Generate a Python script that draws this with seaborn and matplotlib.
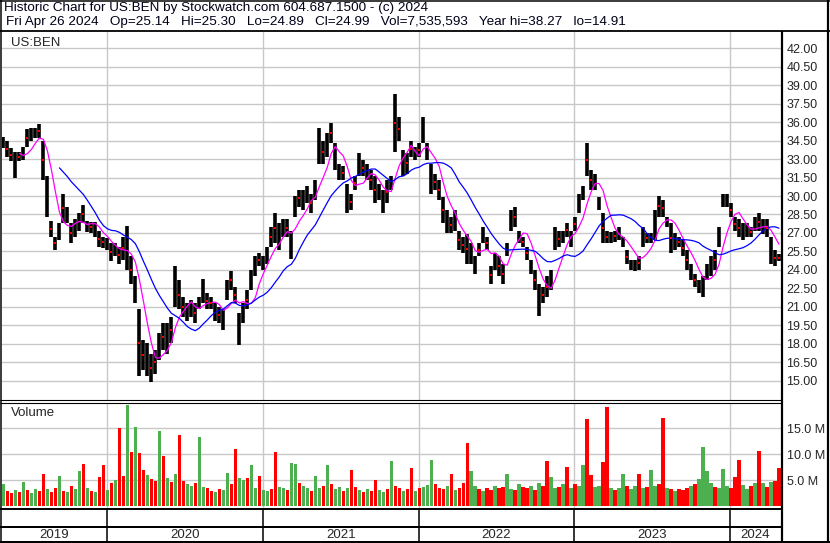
import pandas as pd
import seaborn as sns
import matplotlib.pyplot as plt
import matplotlib.dates as mdates
from matplotlib.lines import Line2D

# US:BEN price range per slice (about 6 trading days each), May 2019 - Apr 2024
high = [34.8, 34.5, 33.9, 33.6, 33.6, 34.0, 35.4, 35.5, 35.5, 35.8,
        34.5, 31.6, 28.0, 26.7, 27.8, 30.2, 29.1, 27.8, 28.1, 28.6,
        29.3, 28.0, 27.9, 27.9, 27.2, 26.7, 26.6, 26.2, 26.2, 25.9,
        26.7, 27.6, 25.1, 23.5, 20.8, 18.3, 18.1, 17.2, 17.5, 18.9,
        19.7, 19.7, 20.2, 24.3, 23.2, 21.8, 21.3, 21.6, 21.3, 21.8,
        23.3, 22.1, 21.8, 21.3, 21.0, 20.8, 23.2, 23.9, 22.6, 20.5,
        21.3, 22.4, 24.0, 25.1, 25.4, 25.1, 25.9, 27.5, 28.6, 27.8,
        28.1, 28.1, 27.2, 30.0, 30.5, 30.5, 30.8, 30.2, 31.3, 35.5,
        34.5, 35.1, 35.9, 34.3, 32.6, 32.4, 31.0, 30.2, 31.6, 33.5,
        32.9, 32.6, 32.1, 31.6, 31.0, 30.5, 31.3, 31.6, 38.3, 36.4,
        33.7, 33.5, 34.5, 34.0, 34.3, 36.4, 34.3, 32.6, 31.8, 31.3,
        29.9, 28.9, 28.3, 28.9, 27.2, 26.7, 26.9, 26.2, 25.1, 26.2,
        27.5, 26.7, 24.3, 25.4, 25.1, 24.5, 26.2, 28.9, 29.1, 27.2,
        26.7, 25.9, 24.8, 24.0, 22.9, 22.6, 23.5, 24.0, 27.5, 27.2,
        27.2, 27.8, 27.2, 28.3, 30.2, 30.8, 34.3, 32.1, 31.8, 29.9,
        28.6, 27.2, 27.1, 27.2, 27.5, 26.7, 25.6, 24.8, 24.8, 25.1,
        27.5, 27.0, 27.0, 28.9, 30.0, 29.7, 28.3, 27.8, 27.0, 26.7,
        26.4, 25.6, 24.5, 23.7, 23.2, 23.5, 24.5, 25.1, 25.6, 27.5,
        30.2, 30.2, 29.4, 28.3, 28.1, 27.8, 27.8, 27.5, 28.3, 28.6,
        28.1, 28.1, 26.7, 25.6, 25.3]
low = [33.9, 33.2, 32.8, 31.5, 32.8, 32.9, 34.0, 34.5, 34.7, 34.7,
       31.3, 28.3, 26.7, 25.6, 26.4, 27.8, 27.8, 26.2, 26.7, 27.2,
       27.8, 27.1, 27.0, 26.7, 25.9, 25.8, 25.6, 24.7, 25.1, 24.5,
       24.8, 24.0, 22.9, 21.3, 15.4, 15.9, 15.4, 14.9, 15.6, 16.7,
       17.5, 17.2, 18.1, 21.0, 20.8, 20.2, 19.9, 20.2, 19.7, 20.8,
       21.3, 20.8, 20.8, 19.9, 19.7, 19.1, 21.6, 22.4, 21.3, 17.9,
       19.7, 20.8, 22.4, 23.5, 24.3, 24.0, 24.5, 25.9, 26.2, 25.6,
       26.7, 26.7, 24.9, 28.3, 29.1, 28.9, 29.4, 28.6, 29.7, 32.6,
       32.6, 33.2, 34.3, 32.1, 31.3, 31.3, 28.6, 28.9, 30.5, 31.6,
       31.6, 31.3, 30.5, 29.4, 29.7, 28.6, 29.4, 30.5, 33.6, 34.5,
       31.6, 31.8, 33.2, 32.9, 33.2, 34.3, 32.9, 30.2, 30.5, 29.7,
       27.8, 27.0, 27.0, 27.2, 25.6, 25.4, 24.5, 24.5, 23.7, 25.1,
       26.2, 25.6, 22.9, 24.0, 23.5, 22.9, 25.1, 27.2, 27.5, 26.2,
       25.9, 24.8, 23.7, 22.4, 20.3, 21.3, 21.8, 22.4, 25.6, 25.9,
       26.2, 26.7, 25.9, 27.2, 28.6, 29.7, 31.6, 30.5, 30.5, 28.9,
       26.2, 26.2, 26.2, 26.3, 26.4, 25.9, 24.5, 24.0, 23.9, 24.0,
       25.9, 26.2, 26.2, 26.4, 28.3, 28.3, 27.5, 25.4, 25.6, 25.9,
       25.1, 24.0, 23.2, 22.6, 22.1, 21.8, 23.2, 23.5, 24.0, 25.9,
       29.1, 29.1, 28.3, 27.2, 26.7, 26.4, 26.7, 26.7, 27.2, 27.2,
       26.9, 26.7, 24.5, 24.3, 24.7]
# volume in millions, same slices
volume = [4.3, 3.0, 2.6, 3.2, 2.8, 4.6, 3.1, 2.5, 3.4, 2.9,
          6.2, 3.3, 2.7, 3.6, 5.9, 3.0, 2.8, 3.9, 3.4, 6.8,
          8.1, 3.5, 3.0, 2.7, 5.7, 7.9, 3.2, 4.4, 5.0, 15.0,
          5.8, 19.5, 10.4, 15.3, 10.2, 7.0, 6.0, 5.2, 4.8, 14.5,
          9.7, 5.5, 4.6, 6.2, 13.7, 4.8, 4.2, 3.9, 4.4, 13.3,
          3.8, 3.5, 3.0, 2.8, 3.4, 3.1, 6.5, 4.2, 11.0, 5.5,
          5.0, 5.4, 7.9, 3.6, 5.9, 3.2, 3.0, 3.4, 10.4, 3.8,
          3.5, 3.2, 8.3, 8.1, 4.4, 3.9, 3.5, 3.0, 5.9, 3.6,
          4.0, 8.0, 4.2, 3.3, 3.8, 3.0, 3.5, 7.0, 3.7, 3.2,
          2.8, 3.4, 2.9, 5.0, 3.1, 2.7, 3.3, 8.7, 4.0, 3.5,
          3.0, 3.3, 7.4, 2.9, 3.5, 3.8, 4.1, 8.9, 4.2, 3.6,
          3.4, 3.9, 6.3, 3.1, 3.5, 4.4, 12.1, 6.8, 4.0, 3.3,
          3.0, 3.6, 3.2, 4.0, 3.5, 3.7, 6.2, 3.4, 3.1, 4.3,
          3.8, 3.5, 4.0, 3.2, 4.5, 3.9, 8.7, 5.6, 3.5, 3.8,
          4.2, 7.6, 3.6, 4.3, 4.0, 7.9, 16.8, 6.0, 3.8, 4.0,
          8.5, 19.0, 3.5, 3.2, 3.6, 6.2, 3.9, 3.4, 4.0, 6.3,
          3.5, 3.7, 7.0, 3.9, 4.2, 17.0, 3.6, 3.3, 3.0, 3.4,
          3.2, 3.6, 3.9, 4.3, 5.3, 11.4, 6.8, 4.4, 3.8, 3.5,
          7.2, 4.0, 3.5, 5.6, 8.9, 4.1, 3.3, 3.9, 4.4, 10.6,
          4.5, 3.8, 4.6, 4.9, 7.4]
# r = down, g = up
direction = ("grrgrgrggr" "rgrrgrgrgg" "rgrgrrgrgr" "rgrgrrgrrg" "rgrgrrggrg"
             "grrgrggrrg" "grggrggrrg" "grggrggrgg" "rgrggrgrrg" "rgrrggrgrr"
             "grrgrgggrr" "rgrgrrrggr" "grrgrrggrg" "rrgrgrrggr" "grgrggrrgg"
             "rrgrggrggr" "grggrrgrgr" "rrgrggggrg" "ggrrrggrgr" "grgrr")
years = [2019, 2020, 2021, 2022, 2023, 2024]
price_ticks = [15.0, 16.5, 18.0, 19.5, 21.0, 22.5, 24.0, 25.5, 27.0, 28.5,
               30.0, 31.5, 33.0, 34.5, 36.0, 37.5, 39.0, 40.5, 42.0]
vol_ticks = [5, 10, 15]

sns.set_style('white')
plt.rcParams['font.family'] = ['Liberation Sans', 'DejaVu Sans']

W, H = 830, 543
fig = plt.figure(figsize=(W / 100, H / 100), dpi=100)


def box(x0, y0, x1, y1):
    return fig.add_axes([x0 / W, 1 - y1 / H, (x1 - x0) / W, (y1 - y0) / H])


def fline(xs, ys, lw):
    fig.add_artist(Line2D([x / W for x in xs], [1 - y / H for y in ys],
                          color='black', lw=lw * 0.72, solid_capstyle='butt'))


dates = pd.date_range('2019-05-03', '2024-04-26', periods=len(high))
t = mdates.date2num(dates)
step = t[1] - t[0]
df = pd.DataFrame({'t': t, 'high': high, 'low': low, 'vol': volume,
                   'dir': list(direction)})
df['mid'] = (df['high'] + df['low']) / 2
df['ma_fast'] = df['mid'].rolling(5).mean()
df['ma_slow'] = df['mid'].rolling(15).mean()
xlim = (t[0] - step / 2, t[-1] + step / 2)
bounds = [mdates.date2num(pd.Timestamp(f'{y}-01-01')) for y in years[1:]]
grid_c = '#c8c8c8'

# price panel
ax = box(1.5, 31.5, 781, 400)
ax.vlines(df['t'], df['low'], df['high'], color='black', lw=2.6)
down = df[df['dir'] == 'r']
ax.scatter(down['t'], down['mid'], s=3, marker='s', color='red', linewidths=0, zorder=3)
sns.lineplot(data=df, x='t', y='ma_fast', ax=ax, color='#ff00ff', lw=0.9)
sns.lineplot(data=df, x='t', y='ma_slow', ax=ax, color='#0000ff', lw=0.9)
ax.set_xlim(xlim)
ax.set_ylim(15 - 19 / 12.333, 42 + 16.5 / 12.333)
ax.set_xticks(bounds)
ax.set_yticks(price_ticks)
ax.set_yticklabels([f'{v:.2f}' for v in price_ticks])
ax.yaxis.tick_right()
ax.tick_params(axis='y', length=0, pad=4, labelsize=9)
ax.tick_params(axis='x', length=0, labelbottom=False)
ax.grid(True, color=grid_c, lw=1.0)
ax.set_axisbelow(True)
ax.set_xlabel('')
ax.set_ylabel('')
for s in ax.spines.values():
    s.set_visible(False)
ax.text(9 / 779.5, 1 - 11 / 368.5, 'US:BEN', transform=ax.transAxes,
        fontsize=9.5, va='center', ha='left')

# volume panel
av = box(1.5, 402.5, 781, 508.5)
cols = df['dir'].map({'r': '#ff0000', 'g': '#4caf50'})
av.bar(df['t'], df['vol'], width=step * 0.85, color=cols, linewidth=0)
av.set_xlim(xlim)
av.set_ylim(-0.42, 19.96)
av.set_xticks(bounds)
av.set_yticks(vol_ticks)
av.set_yticklabels([f'{v:.1f} M' for v in vol_ticks])
av.yaxis.tick_right()
av.tick_params(axis='y', length=0, pad=4, labelsize=9)
av.tick_params(axis='x', length=0, labelbottom=False)
av.grid(True, color=grid_c, lw=1.0)
av.set_axisbelow(True)
for s in av.spines.values():
    s.set_visible(False)
av.text(9 / 779.5, 1 - 10.5 / 106, 'Volume', transform=av.transAxes,
        fontsize=9.5, va='center', ha='left')

# year band
ay = box(1.5, 509, 781, 542)
ay.set_xlim(xlim)
ay.set_ylim(0, 1)
for b in bounds:
    ay.axvline(b, color='black', lw=1.1)
edges = [xlim[0]] + bounds + [xlim[1]]
for y, a, b in zip(years, edges[:-1], edges[1:]):
    ay.text((a + b) / 2, 7.3 / 33, str(y), ha='center', va='center', fontsize=9.5)
ay.axis('off')

# frame
fline([0, 830], [0.75, 0.75], 1.5)
fline([0.75, 0.75], [0, 543], 1.5)
fline([827.8, 827.8], [0, 543], 2.2)
fline([0, 830], [542, 542], 2)
fline([0, 830], [30.5, 30.5], 1.8)
fline([782, 782], [30.5, 542], 2.2)
fline([0, 782], [400.2, 400.2], 1.1)
fline([0, 782], [402.6, 402.6], 1.1)
fline([0, 782], [509.2, 509.2], 2)
fline([0, 782], [527.2, 527.2], 2)

# header
hdr = '#000018'
fig.text(3.5 / W, 1 - 8 / H, 'Historic Chart for US:BEN by Stockwatch.com 604.687.1500 - (c) 2024',
         fontsize=9.7, va='center', ha='left', color=hdr)
fig.text(6 / W, 1 - 22.5 / H,
         'Fri Apr 26 2024   Op=25.14   Hi=25.30   Lo=24.89   Cl=24.99   '
         'Vol=7,535,593   Year hi=38.27   lo=14.91',
         fontsize=9.7, va='center', ha='left', color=hdr)

fig.savefig('out.png', dpi=100)
